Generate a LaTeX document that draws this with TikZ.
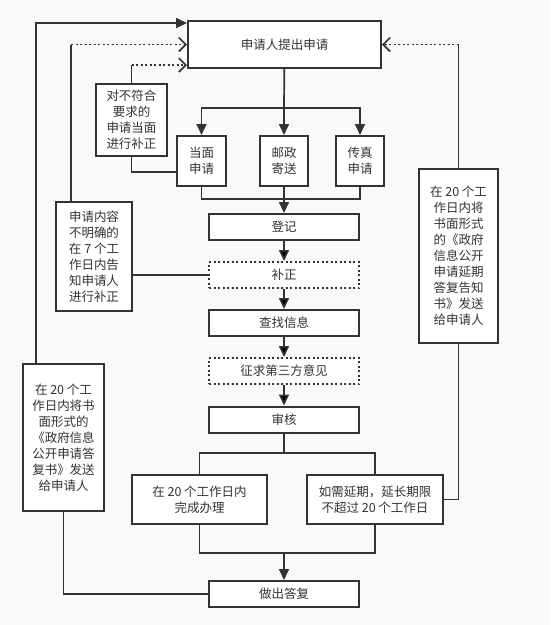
\documentclass[tikz,border=0pt]{standalone}
\usepackage{fontspec}
\setmainfont{Noto Sans CJK SC}
\usetikzlibrary{arrows.meta,positioning}
\definecolor{ink}{HTML}{333333}
\definecolor{paper}{HTML}{F9F9F9}

\begin{document}
\begin{tikzpicture}[x=1pt,y=-1pt,
  font=\fontsize{12.5}{16}\selectfont,text=ink,
  box/.style={draw=ink,line width=2pt,fill=white,inner sep=0pt,align=center},
  stage/.style={box,minimum width=150pt,minimum height=26pt},
  dotbox/.style={stage,dash pattern=on 2pt off 2.5pt},
  link/.style={draw=ink,line width=1.7pt},
  arr/.style={link,-{Triangle[length=11pt,width=10pt]}},
  dotarr/.style={link,dash pattern=on 2pt off 2.5pt,-{Straight Barb[length=7pt,width=14pt]}}]
                                \useasboundingbox[fill=paper] (0,0) rectangle (550,625);
                                % main column
                                \node[box,minimum width=193pt,minimum height=47pt] (apply) at (284.5,44.5) {申请人提出申请};
                                \node[box,minimum width=49pt,minimum height=50pt] (face) at (201.5,161) {当面\\申请};
                                \node[box,minimum width=48pt,minimum height=50pt] (mail) at (284,161) {邮政\\寄送};
                                \node[box,minimum width=48pt,minimum height=50pt] (fax) at (360,161) {传真\\申请};
                                \node[stage] (reg) at (284,227) {登记};
                                \node[dotbox] (fix) at (284,275) {补正};
                                \node[stage] (find) at (284,323) {查找信息};
                                \node[dotbox] (third) at (284,371) {征求第三方意见};
                                \node[stage] (check) at (284,419.5) {审核};
                                \node[box,minimum width=135pt,minimum height=49pt] (done) at (199.5,499.5) {在 20 个工作日内\\完成办理};
                                \node[box,minimum width=136pt,minimum height=49pt] (ext) at (375,499.5) {如需延期，延长期限\\不超过 20 个工作日};
                                \node[stage] (reply) at (284,594) {做出答复};
                                % side notes
                                \node[box,minimum width=71pt,minimum height=72pt] (spot) at (131.5,120) {对不符合\\要求的\\申请当面\\进行补正};
                                \node[box,minimum width=76pt,minimum height=109pt] (vague) at (94,256.5) {申请内容\\不明确的\\在 7 个工\\作日内告\\知申请人\\进行补正};
                                \node[box,minimum width=79pt,minimum height=174pt] (delay) at (458.5,256) {在 20 个工\\作日内将\\书面形式\\的《政府\\信息公开\\申请延期\\答复告知\\书》发送\\给申请人};
                                \node[box,minimum width=81pt,minimum height=147pt] (answer) at (63.5,437.5) {在 20 个工\\作日内将书\\面形式的\\《政府信息\\公开申请答\\复书》发送\\给申请人};
                                \coordinate (fork) at (284,108);
                                \coordinate (merge) at (284,199);
                                \coordinate (fork2) at (284,453);
                                \coordinate (merge2) at (284,553);
                                \coordinate (upL) at (36,23);
                                \coordinate (upM) at (71,44.5);
                                \coordinate (upS) at (131.5,65);
                                \coordinate (upR) at (458.5,44.5);
                                \coordinate (lowS) at (0,172);
                                % flow
                                \draw[link] (apply) -- (fork);
                                \draw[arr] (fork) -| (face.north);
                                \draw[arr] (fork) -- (mail);
                                \draw[arr] (fork) -| (fax.north);
                                \draw[link] (face) |- (merge) -| (fax);
                                \draw[arr] (mail) -- (reg);
                                \path[arr]
                                (reg) edge (fix)
                                (fix) edge (find)
                                (find) edge (third)
                                (third) edge (check);
                                \draw[link] (check) -- (fork2);
                                \draw[link] (done) |- (fork2) -| (ext);
                                \draw[link] (done) |- (merge2) -| (ext);
                                \draw[arr] (merge2) -- (reply);
                                % feedback loops
                                \draw[link] (reply) -| (answer);
                                \draw[arr] (answer.north -| upL) |- (apply.west |- upL);
                                \draw[link] (vague.north -| upM) -- (upM);
                                \draw[dotarr] (upM) -- (apply.west);
                                \draw[link] (vague.east |- fix.west) -- (fix.west);
                                \draw[link] (spot) -- (upS);
                                \draw[dotarr] (upS) -- (apply.west |- upS);
                                \draw[link] (spot) |- (face.west |- lowS);
                                \draw[link] (delay) -- (upR);
                                \draw[dotarr] (upR) -- (apply.east);
                                \draw[link] (delay) |- (ext);
                            \end{tikzpicture}
\end{document}
